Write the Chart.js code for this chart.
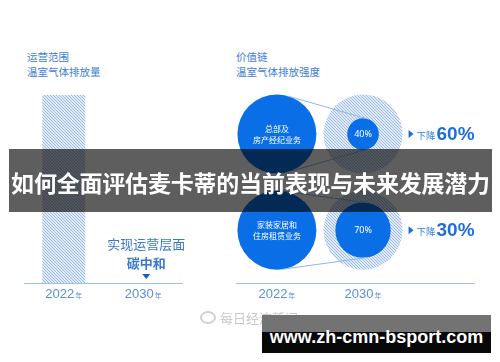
<!DOCTYPE html>
<html>
<head>
<meta charset="utf-8">
<script src="https://cdn.jsdelivr.net/npm/chart.js@4"></script>
<style>
  body { margin: 0; width: 500px; height: 362px; background: #fff; position: relative; overflow: hidden;
         font-family: "Noto Sans CJK SC", sans-serif; }
  canvas { position: absolute; top: 0; }
  #left { left: 0; }
  #right { left: 196px; }
  .title { position: absolute; top: 49px; color: #3f80d6; font-size: 10.5px; line-height: 15px; white-space: nowrap; }
  #banner { position: absolute; left: 9px; top: 149px; width: 483px; height: 63px; z-index: 2;
            background: rgba(0, 0, 0, 0.63); color: #fff; font-weight: bold; font-size: 23px;
            line-height: 66px; text-align: center; white-space: nowrap; letter-spacing: -0.2px; }
  #wm { position: absolute; left: 200px; top: 309px; color: #c9c9c9; font-size: 13px; line-height: 18px; white-space: nowrap; }
  #wm i { display: inline-block; width: 12px; height: 9px; border: 2px solid #cfcfcf; border-radius: 50%; margin-right: 4px; vertical-align: -1px; }
  #site { position: absolute; left: 262px; top: 315px; width: 229px; height: 38px; z-index: 3;
          background: linear-gradient(#6f6f6f 0, #6f6f6f 17px, #000 17px); opacity: 0.97;
          color: #fff; font: bold 18px "Liberation Sans", sans-serif; text-align: center; line-height: 44px; }
</style>
</head>
<body>
<div class="title" style="left:27px">运营范围<br>温室气体排放量</div>
<div class="title" style="left:236px">价值链<br>温室气体排放强度</div>
<canvas id="left" width="230" height="362"></canvas>
<canvas id="right" width="319" height="362"></canvas>
<div id="banner">如何全面评估麦卡蒂的当前表现与未来发展潜力</div>
<div id="wm"><i></i>每日经济新闻</div>
<div id="site">www.zh-cmn-bsport.com</div>
<script>
const YEARS = [2022, 2030];
const OPS_EMISSIONS = [100, 0];          // 运营范围, 2022 = 100
const BUSINESSES = [['总部及', '房产经纪业务'], ['家装家居和', '住房租赁业务']];
const ROWS = [1, 0];
const INTENSITY_2022 = [100, 100];
const INTENSITY_2030 = [40, 70];
const GOAL = ['实现运营层面', '碳中和'];

const BLUE = '#0a6fe6';
const AXIS = '#9fc2e8';
const R_PER_POINT = 0.395;

function makeHatch() {
  const c = document.createElement('canvas');
  c.width = 3; c.height = 3;
  const g = c.getContext('2d');
  g.fillStyle = '#dfeaf6';
  g.fillRect(0, 0, 3, 3);
  g.fillStyle = '#9dbde4';
  for (let i = 0; i < 3; i++) g.fillRect(i, i, 1, 1);
  return g.createPattern(c, 'repeat');
}
const hatch = makeHatch();

function yearLabel(ctx, cx, base, year) {
  ctx.fillStyle = '#5b8fd6';
  ctx.textBaseline = 'alphabetic';
  ctx.textAlign = 'left';
  ctx.font = '13px "Liberation Sans", sans-serif';
  const w1 = ctx.measureText(String(year)).width;
  ctx.font = '7px "Noto Sans CJK SC"';
  const w2 = ctx.measureText('年').width;
  const x0 = cx - (w1 + w2 + 1) / 2;
  ctx.font = '13px "Liberation Sans", sans-serif';
  ctx.fillText(String(year), x0, base);
  ctx.font = '7px "Noto Sans CJK SC"';
  ctx.fillText('年', x0 + w1 + 1, base);
}

function axisLine(ctx, a) {
  ctx.strokeStyle = AXIS;
  ctx.lineWidth = 1.2;
  ctx.beginPath();
  ctx.moveTo(a.left, a.bottom + 0.5);
  ctx.lineTo(a.right, a.bottom + 0.5);
  ctx.stroke();
}

const leftDecor = {
  id: 'leftDecor',
  afterDraw(chart) {
    const { ctx, chartArea: a, scales: { x } } = chart;
    ctx.save();
    axisLine(ctx, a);
    YEARS.forEach((y, i) => yearLabel(ctx, x.getPixelForValue(i), a.bottom + 15, y));
    const cx = x.getPixelForValue(1) + 3;
    ctx.textAlign = 'center';
    ctx.textBaseline = 'middle';
    ctx.fillStyle = '#3a78cc';
    ctx.font = '13px "Noto Sans CJK SC"';
    ctx.fillText(GOAL[0], cx, a.bottom - 39);
    ctx.font = 'bold 13px "Noto Sans CJK SC"';
    ctx.fillText(GOAL[1], cx, a.bottom - 20);
    ctx.fillStyle = '#1d5fb8';
    ctx.beginPath();
    ctx.moveTo(cx - 4, a.bottom - 9);
    ctx.lineTo(cx + 4, a.bottom - 9);
    ctx.lineTo(cx, a.bottom - 4);
    ctx.closePath();
    ctx.fill();
    ctx.restore();
  }
};

new Chart(document.getElementById('left'), {
  type: 'bar',
  data: {
    labels: YEARS.map(String),
    datasets: [{ data: OPS_EMISSIONS, backgroundColor: hatch, barPercentage: 0.54, categoryPercentage: 1 }]
  },
  options: {
    responsive: false,
    animation: false,
    layout: { padding: { left: 24, right: 47, top: 95, bottom: 79 } },
    scales: { x: { display: false }, y: { display: false, min: 0, max: 100 } },
    plugins: { legend: { display: false }, tooltip: { enabled: false } }
  },
  plugins: [leftDecor]
});

function tangents(c1, c2) {
  const dx = c2.x - c1.x, dy = c2.y - c1.y;
  const d = Math.hypot(dx, dy);
  const ux = dx / d, uy = dy / d;
  const c = (c1.r - c2.r) / d, s = Math.sqrt(1 - c * c);
  return [-1, 1].map(sign => {
    const nx = c * ux - sign * s * uy, ny = c * uy + sign * s * ux;
    return [c1.x + c1.r * nx, c1.y + c1.r * ny, c2.x + c2.r * nx, c2.y + c2.r * ny];
  });
}

const rightDecor = {
  id: 'rightDecor',
  afterDatasetsDraw(chart) {
    const { ctx, chartArea: a, scales: { x } } = chart;
    const inner = chart.getDatasetMeta(0).data;
    const base = chart.getDatasetMeta(1).data;
    const outer = chart.getDatasetMeta(2).data;
    ctx.save();
    ctx.strokeStyle = '#8fb8e8';
    ctx.lineWidth = 1;
    base.forEach((b, i) => {
      const c1 = { x: b.x, y: b.y, r: INTENSITY_2022[i] * R_PER_POINT };
      const c2 = { x: inner[i].x, y: inner[i].y, r: INTENSITY_2030[i] * R_PER_POINT };
      tangents(c1, c2).forEach(t => {
        ctx.beginPath(); ctx.moveTo(t[0], t[1]); ctx.lineTo(t[2], t[3]); ctx.stroke();
      });
    });
    ctx.fillStyle = '#fff';
    ctx.textAlign = 'center';
    ctx.textBaseline = 'middle';
    ctx.font = '8px "Noto Sans CJK SC"';
    base.forEach((b, i) => {
      ctx.fillText(BUSINESSES[i][0], b.x, b.y - 5.5);
      ctx.fillText(BUSINESSES[i][1], b.x, b.y + 6);
    });
    ctx.font = '9px "Noto Sans", sans-serif';
    inner.forEach((p, i) => ctx.fillText(INTENSITY_2030[i] + '%', p.x, p.y));
    outer.forEach((p, i) => {
      const x0 = p.x + INTENSITY_2022[i] * R_PER_POINT + 6;
      const yb = p.y + 5;
      ctx.fillStyle = '#1f6fd6';
      ctx.beginPath();
      ctx.moveTo(x0, p.y - 4); ctx.lineTo(x0 + 5, p.y); ctx.lineTo(x0, p.y + 4);
      ctx.closePath(); ctx.fill();
      ctx.textAlign = 'left';
      ctx.textBaseline = 'alphabetic';
      ctx.fillStyle = '#3a80da';
      ctx.font = '9.5px "Noto Sans CJK SC"';
      ctx.fillText('下降', x0 + 8, yb);
      ctx.fillStyle = '#1f6fd6';
      ctx.font = 'bold 19px "Liberation Sans", sans-serif';
      ctx.fillText((INTENSITY_2022[i] - INTENSITY_2030[i]) + '%', x0 + 28, yb + 1);
    });
    axisLine(ctx, a);
    YEARS.forEach(y => yearLabel(ctx, x.getPixelForValue(y), a.bottom + 15, y));
    ctx.restore();
  }
};

// bubble charts reserve at least the largest radius on each side, so padding is 40 left/right
new Chart(document.getElementById('right'), {
  type: 'bubble',
  data: {
    datasets: [
      { data: INTENSITY_2030.map((v, i) => ({ x: YEARS[1], y: ROWS[i], r: v * R_PER_POINT })), backgroundColor: BLUE, order: 0 },
      { data: INTENSITY_2022.map((v, i) => ({ x: YEARS[0], y: ROWS[i], r: v * R_PER_POINT })), backgroundColor: BLUE, order: 1 },
      { data: INTENSITY_2022.map((v, i) => ({ x: YEARS[1], y: ROWS[i], r: v * R_PER_POINT })), backgroundColor: hatch, order: 2 }
    ]
  },
  options: {
    responsive: false,
    animation: false,
    clip: false,
    elements: { point: { borderWidth: 0, hoverBorderWidth: 0 } },
    layout: { padding: { left: 40, right: 40, top: 86, bottom: 79 } },
    scales: {
      x: { type: 'linear', display: false, bounds: 'data', min: 2018.2, max: 2040.4 },
      y: { type: 'linear', display: false, bounds: 'data', min: -0.55, max: 1.5 }
    },
    plugins: { legend: { display: false }, tooltip: { enabled: false } }
  },
  plugins: [rightDecor]
});
</script>
</body>
</html>
